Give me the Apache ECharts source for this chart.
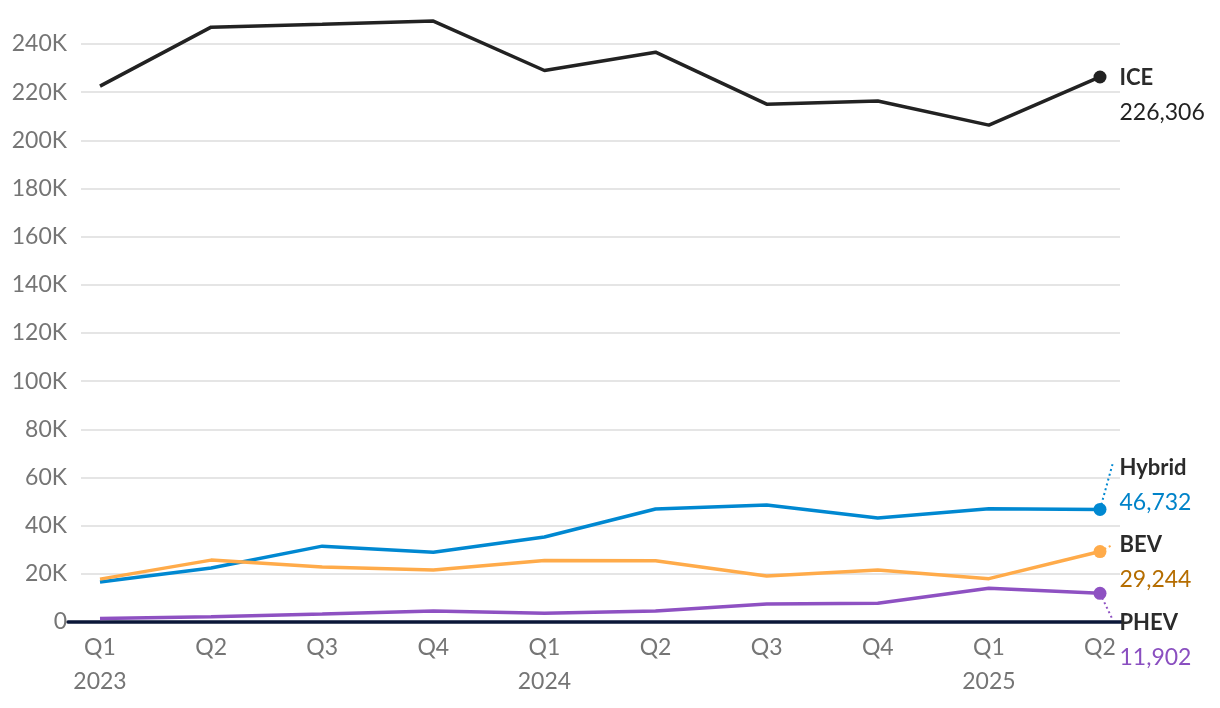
<!DOCTYPE html>
<html><head><meta charset="utf-8">
<script src="https://cdn.jsdelivr.net/npm/echarts@6/dist/echarts.min.js"></script>
<style>html,body{margin:0;padding:0;background:#fff}#c{width:1220px;height:708px}</style>
</head><body><div id="c"></div>
<script>
const quarters = ['Q1','Q2','Q3','Q4','Q1','Q2','Q3','Q4','Q1','Q2'];
const years    = ['2023','','','','2024','','','','2025',''];
const categories = quarters.map((q,i)=>q+'-'+i);
const iceValues    = [222500, 247000, 248200, 249500, 229000, 236600, 215000, 216300, 206300, 226306];
const hybridValues = [16600, 22400, 31500, 29000, 35300, 46900, 48600, 43200, 47000, 46732];
const bevValues    = [17800, 25700, 22800, 21600, 25500, 25400, 19100, 21600, 18000, 29244];
const phevValues   = [1500, 2200, 3300, 4600, 3600, 4600, 7500, 7800, 14000, 11902];
const yTicks = {min:0, max:240000, interval:20000};

const FONT = 'Lato';
const seriesDefs = [
  {name:'ICE', data:iceValues, color:'#222222', valColor:'#222222', dy:18, leader:null},
  {name:'Hybrid', data:hybridValues, color:'#0088d1', valColor:'#0083c9', dy:-24, leader:[13,-47]},
  {name:'BEV', data:bevValues, color:'#ffab4a', valColor:'#b56d00', dy:11, leader:[11,-6]},
  {name:'PHEV', data:phevValues, color:'#8e51c2', valColor:'#8a4fc0', dy:47, leader:[12,25]}
];
const last = categories.length-1;
const fmt = v => v.toLocaleString('en-US');

const chart = echarts.init(document.getElementById('c'), null, {renderer:'canvas'});
const common = {top:44, bottom:86};
const option = {
  animation:false,
  grid:[
    Object.assign({left:81, right:100}, common),
    Object.assign({left:100, right:120}, common),
    Object.assign({left:68, right:98}, common)
  ],
  xAxis:[
    {gridIndex:0, type:'value', min:0, max:1, show:false},
    {gridIndex:1, type:'category', data:categories, boundaryGap:false,
      axisLine:{show:false}, axisTick:{show:false},
      axisLabel:{interval:0, color:'#757575', fontFamily:FONT, fontSize:23, lineHeight:34, margin:9,
        formatter:(v,i)=> quarters[i] + (years[i] ? '\n'+years[i] : '')}},
    {gridIndex:2, type:'value', min:0, max:1, axisLine:{show:true, onZero:false, lineStyle:{color:'#0b1738', width:3.5}},
      axisTick:{show:false}, axisLabel:{show:false}, splitLine:{show:false}}
  ],
  yAxis:[
    {gridIndex:0, type:'value', min:yTicks.min, max:yTicks.max, interval:yTicks.interval,
      axisLine:{show:false}, axisTick:{show:false},
      axisLabel:{color:'#757575', fontFamily:FONT, fontSize:23, margin:14,
        formatter:v=> v===0 ? '0' : (v/1000)+'K'},
      splitLine:{lineStyle:{color:'#e5e5e5', width:2}}},
    {gridIndex:1, type:'value', min:yTicks.min, max:yTicks.max, interval:yTicks.interval, show:false, splitLine:{show:false}},
    {gridIndex:2, type:'value', min:yTicks.min, max:yTicks.max, interval:yTicks.interval, show:false, splitLine:{show:false}}
  ],
  series: seriesDefs.map(s=>({
    name:s.name, type:'line', xAxisIndex:1, yAxisIndex:1, clip:false,
    data: s.data.map((v,i)=> i===last ? {value:v, label:{show:true}} : v),
    lineStyle:{color:s.color, width:3.5},
    itemStyle:{color:s.color},
    symbol:'circle',
    symbolSize:(v,p)=> p.dataIndex===last ? 13 : 0,
    showSymbol:true,
    emphasis:{disabled:true},
    label:{show:false, position:'right', distance:13,
      formatter:p=>'{n|'+s.name+'}\n{v|'+fmt(p.value)+'}',
      rich:{
        n:{fontFamily:FONT, fontSize:22, fontWeight:'bold', color:'#2b2b2b', lineHeight:35},
        v:{fontFamily:FONT, fontSize:23, color:s.valColor, lineHeight:35}
      }},
    labelLayout:{dy:s.dy}
  }))
};
chart.setOption(option);

const gfx = [];
seriesDefs.forEach((s,i)=>{
  if(!s.leader) return;
  const p = chart.convertToPixel({seriesIndex:i}, [last, s.data[last]]);
  gfx.push({type:'polyline', z:1, shape:{points:[p,[p[0]+s.leader[0], p[1]+s.leader[1]]]},
    style:{stroke:s.color, lineWidth:2, lineDash:[2,3], fill:null}});
});
chart.setOption({graphic:gfx});
</script></body></html>
